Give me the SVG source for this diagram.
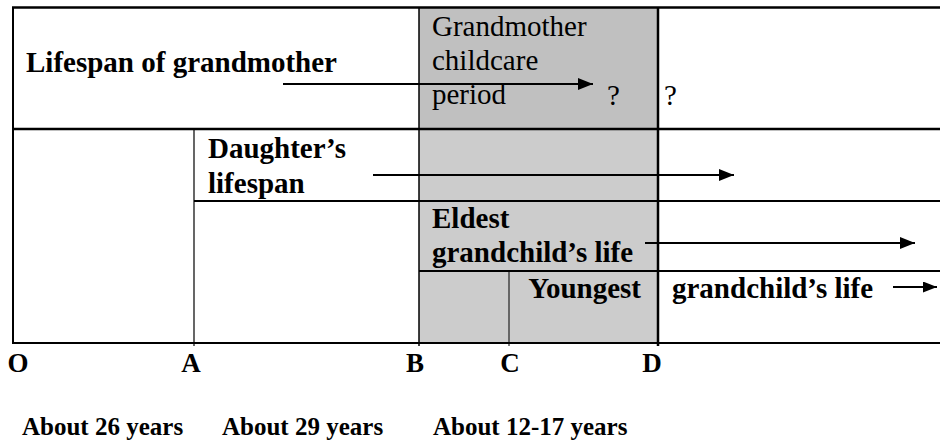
<svg xmlns="http://www.w3.org/2000/svg" width="940" height="443" viewBox="0 0 940 443">
<style>
.b{font-family:"Liberation Serif","Times New Roman",serif;font-weight:bold;font-size:29px;fill:#000}
.r{font-family:"Liberation Serif","Times New Roman",serif;font-size:29px;fill:#000}
.ax{font-family:"Liberation Serif","Times New Roman",serif;font-weight:bold;font-size:27px;fill:#000}
.lab{font-family:"Liberation Serif","Times New Roman",serif;font-weight:bold;font-size:25px;fill:#000}
.g{stroke:#000;fill:none}
.c{stroke:#000;stroke-width:2;fill:none}
</style>
<defs>
<marker id="ah" viewBox="0 0 15 12" refX="15" refY="6" markerWidth="15" markerHeight="12" markerUnits="userSpaceOnUse" orient="auto"><path d="M0,0 L15,6 L0,12 Z" fill="#000"/></marker>
<marker id="ahs" viewBox="0 0 14 11" refX="14" refY="5.5" markerWidth="14" markerHeight="11" markerUnits="userSpaceOnUse" orient="auto"><path d="M0,0 L14,5.5 L0,11 Z" fill="#000"/></marker>
</defs>
<rect width="940" height="443" fill="#fff"/>
<g id="shading">
<rect x="419" y="7" width="239" height="122" fill="#c0c0c0"/>
<rect x="419" y="129" width="239" height="214" fill="#cccccc"/>
</g>
<g id="grid">
<line class="g" stroke-width="2.5" x1="12" y1="7.5" x2="940" y2="7.5"/>
<line class="g" stroke-width="2" x1="13" y1="7" x2="13" y2="344"/>
<line class="g" stroke-width="2.5" x1="12" y1="129" x2="940" y2="129"/>
<line class="g" stroke-width="1.2" x1="194" y1="129" x2="194" y2="346"/>
<line class="g" stroke-width="2" x1="194" y1="201" x2="940" y2="201"/>
<line class="g" stroke-width="2" x1="419" y1="271" x2="940" y2="271"/>
<line class="g" stroke-width="1.5" x1="419" y1="7" x2="419" y2="346"/>
<line class="g" stroke-width="1" x1="509" y1="271" x2="509" y2="346"/>
<line class="g" stroke-width="2.5" x1="658" y1="7" x2="658" y2="346"/>
<line class="g" stroke-width="2" x1="12" y1="343" x2="940" y2="343"/>
</g>
<g id="grandmother"><text class="b" x="26" y="72">Lifespan of grandmother</text></g>
<g id="childcare-period">
<text class="r" x="432" y="36">Grandmother</text>
<text class="r" x="432" y="70">childcare</text>
<text class="r" x="432" y="104">period</text>
<text class="r" x="607" y="105">?</text>
</g>
<g id="unknown"><text class="r" x="664" y="105">?</text></g>
<g id="daughter">
<text class="b" x="208" y="158">Daughter’s</text>
<text class="b" x="208" y="193">lifespan</text>
</g>
<g id="eldest">
<text class="b" x="432" y="228">Eldest</text>
<text class="b" x="432" y="262">grandchild’s life</text>
</g>
<g id="youngest">
<text class="b" x="641" y="298" text-anchor="end">Youngest</text>
<text class="b" x="672" y="298">grandchild’s life</text>
</g>
<g id="axis">
<text class="ax" x="18" y="372" text-anchor="middle">O</text>
<text class="ax" x="191" y="372" text-anchor="middle">A</text>
<text class="ax" x="415" y="372" text-anchor="middle">B</text>
<text class="ax" x="510" y="372" text-anchor="middle">C</text>
<text class="ax" x="652" y="372" text-anchor="middle">D</text>
</g>
<g id="durations">
<text class="lab" x="22" y="435">About 26 years</text>
<text class="lab" x="222" y="435">About 29 years</text>
<text class="lab" x="433" y="435">About 12-17 years</text>
</g>
<g id="connectors">
<line class="c" x1="283" y1="84" x2="593" y2="84" marker-end="url(#ah)"/>
<line class="c" x1="373" y1="175" x2="734" y2="175" marker-end="url(#ah)"/>
<line class="c" x1="645" y1="243" x2="915" y2="243" marker-end="url(#ah)"/>
<line class="c" x1="893" y1="287" x2="937" y2="287" marker-end="url(#ahs)"/>
</g>
</svg>
